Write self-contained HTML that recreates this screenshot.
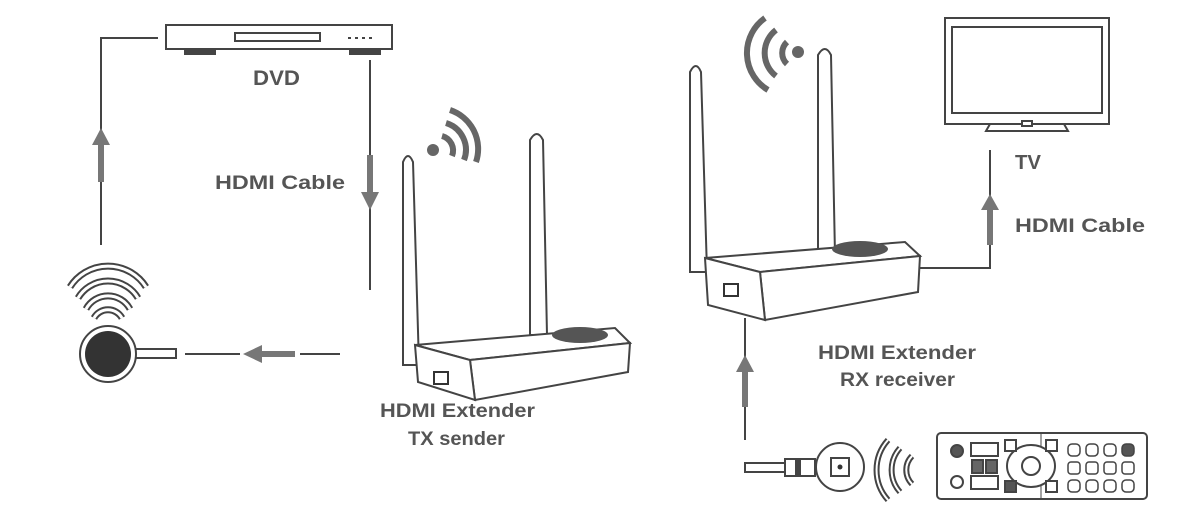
<!DOCTYPE html>
<html><head><meta charset="utf-8"><style>
html,body{margin:0;padding:0;background:#fff;}
svg{display:block;}
text{font-family:"Liberation Sans",sans-serif;font-weight:bold;fill:#555;}
</style></head><body>
<svg width="1200" height="518" viewBox="0 0 1200 518" xmlns="http://www.w3.org/2000/svg">
<g stroke="#444" fill="none" stroke-width="2">
<rect x="166" y="25" width="226" height="24" fill="#fff"/>
<rect x="235" y="33" width="85" height="8"/>
<line x1="348" y1="38" x2="375" y2="38" stroke-dasharray="3,4"/>
<rect x="185" y="49" width="30" height="5" fill="#444"/>
<rect x="350" y="49" width="30" height="5" fill="#444"/>
<polyline points="158,38 101,38 101,245"/>
<line x1="370" y1="60" x2="370" y2="290"/>
<line x1="185" y1="354" x2="240" y2="354"/>
<line x1="300" y1="354" x2="340" y2="354"/>
<polyline points="920,268 990,268 990,150"/>
<line x1="745" y1="318" x2="745" y2="440"/>
</g>
<g fill="#777">
<polygon points="101,128 92,145 98,145 98,182 104,182 104,145 110,145"/>
<polygon points="370,210 361,192 367,192 367,155 373,155 373,192 379,192"/>
<polygon points="243,354 262,345 262,351 295,351 295,357 262,357 262,363"/>
<polygon points="990,194 981,210 987,210 987,245 993,245 993,210 999,210"/>
<polygon points="745,355 736,372 742,372 742,407 748,407 748,372 754,372"/>
</g>
<g fill="none" stroke="#444" stroke-width="7">
<path d="M70,287 A45,45 0 0 1 146,287"/>
<path d="M78,298 A35,35 0 0 1 138,298"/>
<path d="M86,309 A25,25 0 0 1 130,309"/>
<path d="M94,318 A16,16 0 0 1 122,318"/>
</g>
<g fill="none" stroke="#fff" stroke-width="3">
<path d="M70,287 A45,45 0 0 1 146,287"/>
<path d="M78,298 A35,35 0 0 1 138,298"/>
<path d="M86,309 A25,25 0 0 1 130,309"/>
<path d="M94,318 A16,16 0 0 1 122,318"/>
</g>
<rect x="130" y="349" width="46" height="9" fill="#fff" stroke="#444" stroke-width="2"/>
<circle cx="108" cy="354" r="28" fill="#fff" stroke="#444" stroke-width="2"/>
<circle cx="108" cy="354" r="23" fill="#333"/>
<g fill="none" stroke="#666" stroke-width="6">
<path d="M442,136 A15,15 0 0 1 452,156"/>
<path d="M446,123 A28,28 0 0 1 464,160"/>
<path d="M450,110 A41,41 0 0 1 476,162"/>
</g>
<circle cx="433" cy="150" r="6" fill="#666"/>
<g fill="#fff" stroke="#444" stroke-width="2">
<path d="M403,365 L403,162 Q408,150 413,162 L419,365 Z"/>
<path d="M530,335 L530,140 Q537,128 543,140 L547,335 Z"/>
<polygon points="415,345 615,328 630,343 470,360"/>
<polygon points="470,360 630,343 628,372 475,400"/>
<polygon points="415,345 470,360 475,400 418,382"/>
</g>
<ellipse cx="580" cy="335" rx="28" ry="8" fill="#555"/>
<rect x="434" y="372" width="14" height="12" fill="#fff" stroke="#333" stroke-width="2"/>
<g fill="none" stroke="#666" stroke-width="6">
<path d="M787,42 A15,15 0 0 0 787,64"/>
<path d="M776,30 A29,29 0 0 0 776,76"/>
<path d="M765,18 A43,43 0 0 0 768,90"/>
</g>
<circle cx="798" cy="52" r="6" fill="#666"/>
<g fill="#fff" stroke="#444" stroke-width="2">
<path d="M690,272 L690,72 Q696,60 701,72 L707,272 Z"/>
<path d="M818,255 L818,55 Q825,43 831,55 L835,255 Z"/>
<polygon points="705,258 905,242 920,256 760,272"/>
<polygon points="760,272 920,256 918,292 765,320"/>
<polygon points="705,258 760,272 765,320 708,305"/>
</g>
<ellipse cx="860" cy="249" rx="28" ry="8" fill="#555"/>
<rect x="724" y="284" width="14" height="12" fill="#fff" stroke="#333" stroke-width="2"/>
<g fill="#fff" stroke="#444" stroke-width="2">
<rect x="945" y="18" width="164" height="106"/>
<rect x="952" y="27" width="150" height="86"/>
<polygon points="990,124 1064,124 1068,131 986,131"/>
<rect x="1022" y="121" width="10" height="5"/>
</g>
<g stroke="#444" stroke-width="2" fill="#fff">
<rect x="745" y="463" width="40" height="9"/>
<rect x="785" y="459" width="30" height="17"/>
<circle cx="840" cy="467" r="24"/>
<rect x="831" y="458" width="18" height="18"/>
</g>
<rect x="795" y="459" width="6" height="17" fill="#444"/>
<circle cx="840" cy="467" r="2.5" fill="#333"/>
<g fill="none" stroke="#444" stroke-width="6">
<path d="M888,440 A45,45 0 0 0 888,500"/>
<path d="M900,448 A33,33 0 0 0 900,492"/>
<path d="M912,456 A20,20 0 0 0 912,484"/>
</g>
<g fill="none" stroke="#fff" stroke-width="2">
<path d="M888,440 A45,45 0 0 0 888,500"/>
<path d="M900,448 A33,33 0 0 0 900,492"/>
<path d="M912,456 A20,20 0 0 0 912,484"/>
</g>
<g stroke="#444" stroke-width="2" fill="#fff">
<rect x="937" y="433" width="210" height="66" rx="4"/>
<line x1="1041" y1="433" x2="1041" y2="499" stroke-width="1"/>
<circle cx="957" cy="451" r="6" fill="#555"/>
<circle cx="957" cy="482" r="6"/>
<rect x="971" y="443" width="27" height="13"/>
<rect x="971" y="476" width="27" height="13"/>
<rect x="972" y="460" width="11" height="13" fill="#666"/>
<rect x="986" y="460" width="11" height="13" fill="#666"/>
<ellipse cx="1031" cy="466" rx="24" ry="21"/>
<circle cx="1031" cy="466" r="9"/>
<rect x="1005" y="440" width="11" height="11"/>
<rect x="1046" y="440" width="11" height="11"/>
<rect x="1005" y="481" width="11" height="11" fill="#555"/>
<rect x="1046" y="481" width="11" height="11"/>
<g stroke-width="1.5">
<rect x="1068" y="444" width="12" height="12" rx="4"/><rect x="1086" y="444" width="12" height="12" rx="4"/><rect x="1104" y="444" width="12" height="12" rx="4"/><rect x="1122" y="444" width="12" height="12" rx="4" fill="#555"/>
<rect x="1068" y="462" width="12" height="12" rx="3"/><rect x="1086" y="462" width="12" height="12" rx="3"/><rect x="1104" y="462" width="12" height="12" rx="3"/><rect x="1122" y="462" width="12" height="12" rx="3"/>
<rect x="1068" y="480" width="12" height="12" rx="4"/><rect x="1086" y="480" width="12" height="12" rx="4"/><rect x="1104" y="480" width="12" height="12" rx="4"/><rect x="1122" y="480" width="12" height="12" rx="4"/>
</g>
</g>
<text x="253" y="85" font-size="21" textLength="47" lengthAdjust="spacingAndGlyphs">DVD</text>
<text x="215" y="189" font-size="19" textLength="130" lengthAdjust="spacingAndGlyphs">HDMI Cable</text>
<text x="380" y="417" font-size="19" textLength="155" lengthAdjust="spacingAndGlyphs">HDMI Extender</text>
<text x="408" y="445" font-size="19" textLength="97" lengthAdjust="spacingAndGlyphs">TX sender</text>
<text x="1015" y="169" font-size="20" textLength="26" lengthAdjust="spacingAndGlyphs">TV</text>
<text x="1015" y="232" font-size="19" textLength="130" lengthAdjust="spacingAndGlyphs">HDMI Cable</text>
<text x="818" y="359" font-size="19" textLength="158" lengthAdjust="spacingAndGlyphs">HDMI Extender</text>
<text x="840" y="386" font-size="19" textLength="115" lengthAdjust="spacingAndGlyphs">RX receiver</text>
</svg>
</body></html>
